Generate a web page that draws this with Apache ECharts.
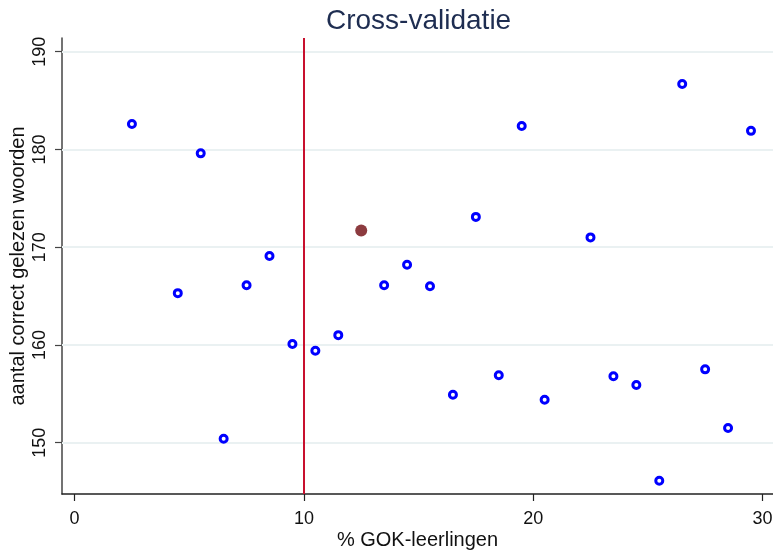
<!DOCTYPE html>
<html>
<head>
<meta charset="utf-8">
<script src="https://cdn.jsdelivr.net/npm/echarts@6/dist/echarts.min.js"></script>
<style>html,body{margin:0;padding:0;background:#fff}#c{width:773px;height:551px}</style>
</head>
<body>
<div id="c"></div>
<script>
const xValues = [2.5, 4.5, 5.5, 6.5, 7.5, 8.5, 9.5, 10.5, 11.5, 13.5, 14.5, 15.5, 16.5, 17.5, 18.5, 19.5, 20.5, 22.5, 23.5, 24.5, 25.5, 26.5, 27.5, 28.5, 29.5];
const yValues = [182.6, 165.3, 179.6, 150.4, 166.1, 169.1, 160.1, 159.4, 161.0, 166.1, 168.2, 166.0, 154.9, 173.1, 156.9, 182.4, 154.4, 171.0, 156.8, 155.9, 146.1, 186.7, 157.5, 151.5, 181.9];
const highlightPoint = [12.5, 171.7];
const cutoffX = 10;
const xTicks = [0, 10, 20, 30];
const yTicks = [150, 160, 170, 180, 190];

const chart = echarts.init(document.getElementById('c'));
const FONT = 'Liberation Sans, Arial, sans-serif';
chart.setOption({
  animation: false,
  title: {
    text: 'Cross-validatie', left: 321, top: 2,
    textStyle: { fontFamily: FONT, fontSize: 28, fontWeight: 'normal', color: '#1E2D51' }
  },
  grid: { left: 62, right: 0, top: 38, bottom: 57, containLabel: false, outerBoundsMode: 'none' },
  xAxis: {
    type: 'value', min: -0.55, max: 30.46,
    name: '% GOK-leerlingen', nameLocation: 'middle', nameGap: 36, nameMoveOverlap: false,
    nameTextStyle: { fontFamily: FONT, fontSize: 20, color: '#111' },
    axisLine: { show: true, onZero: false, lineStyle: { color: '#222', width: 1.5 } },
    axisTick: { show: true, customValues: xTicks, length: 7, lineStyle: { color: '#222', width: 1.2 } },
    axisLabel: { customValues: xTicks, fontFamily: FONT, fontSize: 18, color: '#111', margin: 16, hideOverlap: false },
    splitLine: { show: false }
  },
  yAxis: {
    type: 'value', min: 144.75, max: 191.4,
    name: 'aantal correct gelezen woorden', nameLocation: 'middle', nameGap: 34, nameMoveOverlap: false,
    nameTextStyle: { fontFamily: FONT, fontSize: 20, color: '#111' },
    axisLine: { show: true, onZero: false, lineStyle: { color: '#444', width: 1.5 } },
    axisTick: { show: true, customValues: yTicks, length: 7, lineStyle: { color: '#444', width: 1.2 } },
    axisLabel: { customValues: yTicks, rotate: 90, fontFamily: FONT, fontSize: 18, color: '#111', margin: 13 },
    splitLine: { show: false }
  },
  series: [
    {
      type: 'scatter',
      data: xValues.map((x, i) => [x, yValues[i]]),
      symbol: 'circle', symbolSize: 7,
      itemStyle: { color: '#ffffff', borderColor: '#0000FF', borderWidth: 3, opacity: 1 },
      z: 5,
      markLine: {
        silent: true, symbol: 'none', animation: false,
        label: { show: false },
        lineStyle: { color: '#EAF1F2', width: 2, type: 'solid' },
        data: yTicks.map(v => ({ yAxis: v }))
      }
    },
    {
      type: 'scatter',
      data: [highlightPoint],
      symbol: 'circle', symbolSize: 12,
      itemStyle: { color: '#8C3B3F', opacity: 1 },
      z: 6,
      markLine: {
        silent: true, symbol: 'none', animation: false,
        label: { show: false },
        lineStyle: { color: '#C8102E', width: 2, type: 'solid' },
        data: [{ xAxis: cutoffX }]
      }
    }
  ]
});
</script>
</body>
</html>
